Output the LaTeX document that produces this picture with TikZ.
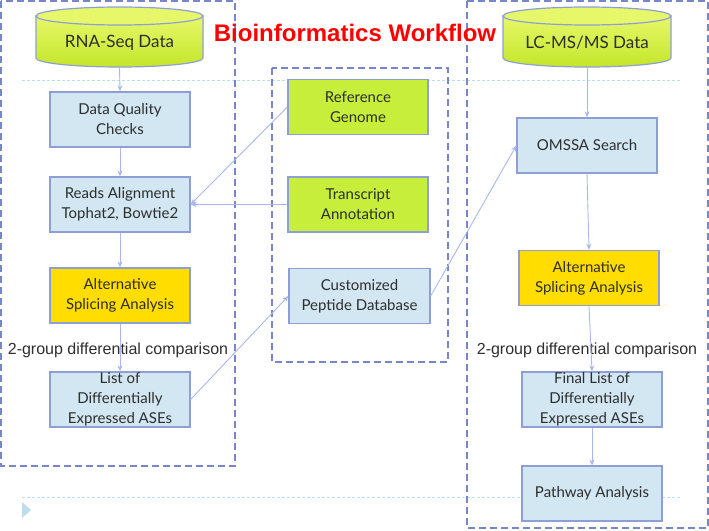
\documentclass[tikz,border=0pt]{standalone}
\usepackage{fontspec}
\setmainfont{Lato}
\newfontfamily\arialfont{Liberation Sans}
\usetikzlibrary{arrows.meta}
\definecolor{framecol}{HTML}{7686C8}
\definecolor{boxborder}{HTML}{8E9FD6}
\definecolor{boxfill}{HTML}{D2E7F2}
\definecolor{greenfill}{HTML}{C6EE3A}
\definecolor{yellowfill}{HTML}{FFDD00}
\definecolor{arrowcol}{HTML}{A9B7EE}
\definecolor{txtcol}{HTML}{2E2E2E}
\definecolor{decocol}{HTML}{BCDDEE}
\definecolor{cyltop}{HTML}{E6F86A}
\definecolor{cylbot}{HTML}{C4E62A}
\tikzset{
  frame/.style={draw=framecol, line width=1.3pt, dash pattern=on 7pt off 4pt},
  box/.style={draw=boxborder, line width=1.3pt, fill=boxfill, minimum width=140pt,
    minimum height=55pt, inner sep=0pt, align=center, text=txtcol,
    font=\fontsize{15pt}{20pt}\selectfont},
  greenbox/.style={box, fill=greenfill},
  yellowbox/.style={box, fill=yellowfill},
  conn/.style={draw=arrowcol, line width=0.9pt, -{Stealth[length=6pt,width=5pt]}},
  deco/.style={draw=decocol, line width=0.8pt, dash pattern=on 3pt off 2pt},
  cylbody/.style={draw=boxborder, line width=1.2pt, top color=cyltop, bottom color=cylbot},
  cyllabel/.style={minimum width=167pt, minimum height=60pt, inner sep=0pt},
  cyltext/.style={text=txtcol, font=\fontsize{17pt}{20pt}\selectfont},
  difflabel/.style={text=txtcol, inner sep=0pt, font=\arialfont\fontsize{16pt}{19pt}\selectfont}
}
\begin{document}
\begin{tikzpicture}[x=1pt, y=-1pt]
\useasboundingbox (0,0) rectangle (709,530);
% slide decorations
\draw[deco] (22,80) -- (682,80);
\draw[deco] (22,497) -- (682,497);
\fill[decocol] (22,502) -- (31,510) -- (22,518) -- cycle;
% dashed frames
\draw[frame] (1,1) rectangle (235,466);
\draw[frame] (272,68) rectangle (448,362);
\draw[frame] (467,1) rectangle (708,528);
% title
\node[text=red, font=\arialfont\bfseries\fontsize{24pt}{28pt}\selectfont, inner sep=0pt] (title) at (355,33) {Bioinformatics Workflow};
% cylinders
\foreach \cx/\hw in {119.5/83.5, 587/84} {
  \path[cylbody] (\cx-\hw,16) -- (\cx-\hw,58) arc[start angle=180, end angle=360, x radius=\hw pt, y radius=9pt] -- (\cx+\hw,16) -- cycle;
  \path[draw=boxborder, line width=1.2pt, fill=cyltop] (\cx,16) ellipse[x radius=\hw pt, y radius=9pt];
}
\node[cyllabel] (rna) at (119.5,37) {};
\node[cyltext] (rnatext) at (119.5,43) {RNA-Seq Data};
\node[cyllabel] (lcms) at (587,37) {};
\node[cyltext] (lcmstext) at (587,43) {LC-MS/MS Data};
% left column
\node[box] (dqc) at (120,119.5) {Data Quality\\Checks};
\node[box] (align) at (120,204.5) {Reads Alignment\\Tophat2, Bowtie2};
\node[yellowbox] (asa1) at (120,295.5) {Alternative\\Splicing Analysis};
\node[box] (list1) at (120,399.5) {List of\\Differentially\\Expressed ASEs};
\node[difflabel] (diff1) at (118,350) {2-group differential comparison};
% middle column
\node[greenbox] (ref) at (358,107) {Reference\\Genome};
\node[greenbox] (trans) at (358,204.5) {Transcript\\Annotation};
\node[box, minimum width=141pt] (pep) at (359.5,296) {Customized\\Peptide Database};
% right column
\node[box] (omssa) at (587,145.5) {OMSSA Search};
\node[yellowbox] (asa2) at (589,278) {Alternative\\Splicing Analysis};
\node[box] (list2) at (592,399.5) {Final List of\\Differentially\\Expressed ASEs};
\node[box] (path) at (592,493.5) {Pathway Analysis};
\node[difflabel] (diff2) at (587,350) {2-group differential comparison};
% connectors
\draw[conn] (rna.south) -- (dqc.north);
\draw[conn] (dqc.south) -- (align.north);
\draw[conn] (align.south) -- (asa1.north);
\draw[conn] (asa1.south) -- (list1.north);
\draw[conn] (ref.west) -- (align.east);
\draw[conn] (trans.west) -- (align.east);
\draw[conn] (list1.east) -- (pep.west);
\draw[conn] (pep.east) -- (omssa.west);
\draw[conn] (lcms.south) -- (omssa.north);
\draw[conn] (omssa.south) -- (asa2.north);
\draw[conn] (asa2.south) -- (list2.north);
\draw[conn] (list2.south) -- (path.north);
\end{tikzpicture}
\end{document}
